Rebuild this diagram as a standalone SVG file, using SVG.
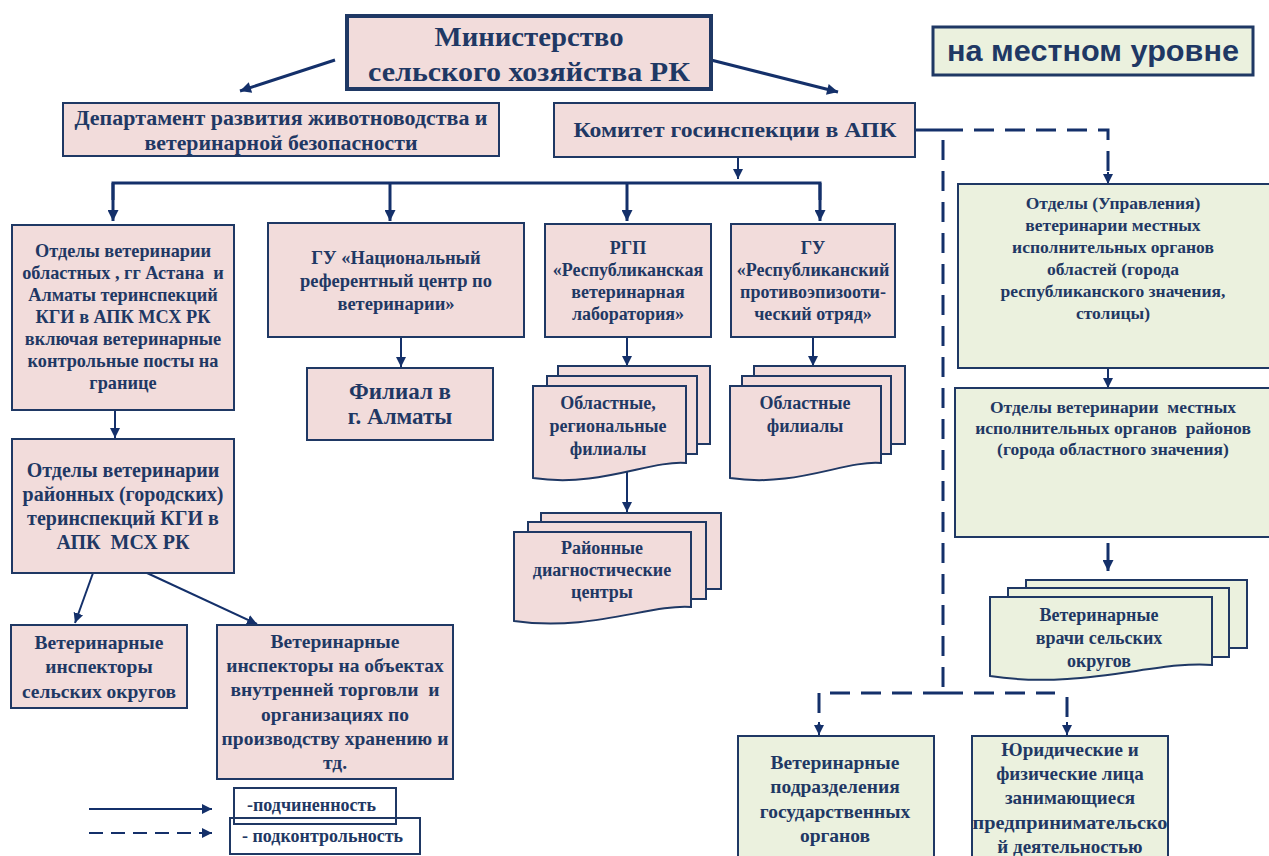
<svg xmlns="http://www.w3.org/2000/svg" width="1269" height="856" viewBox="0 0 1269 856">
<defs>
<style>
.pk{fill:#f2dcdb;stroke:#1f3864;stroke-width:2}
.gr{fill:#ebf1de;stroke:#1f3864;stroke-width:2}
.t{font-family:"Liberation Serif","Times New Roman",serif;font-weight:bold;fill:#1f3864;text-anchor:middle}
.s{fill:none;stroke:#14306a;stroke-width:2}
.sb{fill:none;stroke:#14306a;stroke-width:3}
.d{fill:none;stroke:#14306a;stroke-width:3;stroke-dasharray:20 11}
</style>
<marker id="ah" viewBox="0 0 10 10" refX="10" refY="5" markerWidth="10" markerHeight="10" markerUnits="userSpaceOnUse" orient="auto"><path d="M0,0 L10,5 L0,10 z" fill="#14306a"/></marker>
<marker id="ahb" viewBox="0 0 10 10" refX="10" refY="5" markerWidth="13" markerHeight="11" markerUnits="userSpaceOnUse" orient="auto"><path d="M0,0 L10,5 L0,10 z" fill="#14306a"/></marker>
</defs>
<rect width="1269" height="856" fill="#ffffff"/>

<g id="connectors">
<line class="sb" x1="335" y1="60" x2="240" y2="91" marker-end="url(#ahb)"/>
<line class="sb" x1="711" y1="60" x2="838" y2="92" marker-end="url(#ahb)"/>
<line class="s" x1="738" y1="157" x2="738" y2="179" marker-end="url(#ah)"/>
<path class="sb" d="M113,200 V183 H820 V200"/>
<line class="sb" x1="113" y1="183" x2="113" y2="221" marker-end="url(#ahb)"/>
<line class="sb" x1="390" y1="183" x2="390" y2="221" marker-end="url(#ahb)"/>
<line class="sb" x1="627" y1="183" x2="627" y2="221" marker-end="url(#ahb)"/>
<line class="sb" x1="820" y1="183" x2="820" y2="221" marker-end="url(#ahb)"/>
<line class="s" x1="115" y1="410" x2="115" y2="438" marker-end="url(#ah)"/>
<line class="s" x1="401" y1="337" x2="401" y2="367" marker-end="url(#ah)"/>
<line class="s" x1="627" y1="337" x2="627" y2="366" marker-end="url(#ah)"/>
<line class="s" x1="813" y1="337" x2="813" y2="366" marker-end="url(#ah)"/>
<line class="s" x1="627" y1="472" x2="627" y2="512" marker-end="url(#ah)"/>
<line class="s" x1="93" y1="573" x2="75" y2="623" marker-end="url(#ah)"/>
<line class="s" x1="147" y1="573" x2="257" y2="624" marker-end="url(#ah)"/>
<line class="s" x1="1108" y1="172" x2="1108" y2="184" marker-end="url(#ah)"/>
<line class="s" x1="1108" y1="368" x2="1108" y2="388" marker-end="url(#ah)"/>
<line class="sb" x1="1108" y1="543" x2="1108" y2="571" marker-end="url(#ahb)"/>
<line class="sb" x1="916" y1="130" x2="943" y2="130"/>
<path class="d" d="M943,130 H1108 V172"/>
<path class="d" d="M943,140 V693"/>
<path class="d" d="M943,693 H819 V726"/>
<line class="s" x1="819" y1="722" x2="819" y2="735" marker-end="url(#ah)"/>
<path class="d" d="M943,693 H1055"/>
<path class="d" d="M1067,697 V726"/>
<line class="s" x1="1067" y1="722" x2="1067" y2="735" marker-end="url(#ah)"/>
<line class="s" x1="89" y1="809" x2="212" y2="809" marker-end="url(#ah)"/>
<line class="s" x1="89" y1="833" x2="212" y2="833" stroke-dasharray="14 8" marker-end="url(#ah)"/>
</g>

<g id="n-ministry">
<rect x="347" y="16" width="364" height="73" fill="#f2dcdb" stroke="#1f3864" stroke-width="4"/>
<text class="t" font-size="27"><tspan x="529" y="46" textLength="189" lengthAdjust="spacingAndGlyphs">Министерство</tspan><tspan x="529" y="81" textLength="322" lengthAdjust="spacingAndGlyphs">сельского хозяйства  РК</tspan></text>
</g>

<g id="n-local">
<rect x="933" y="27" width="320" height="48" fill="#ebf1de" stroke="#1f3864" stroke-width="3"/>
<text x="1093" y="61" font-family="'Liberation Sans Narrow','Liberation Sans',Arial,sans-serif" font-weight="bold" font-size="29" fill="#1f3864" text-anchor="middle" textLength="292" lengthAdjust="spacingAndGlyphs">на местном уровне</text>
</g>

<g id="n-dept">
<rect class="pk" x="63" y="103" width="436" height="53"/>
<text class="t" font-size="20"><tspan x="281" y="125" textLength="413" lengthAdjust="spacingAndGlyphs">Департамент развития животноводства и</tspan><tspan x="281" y="150" textLength="273" lengthAdjust="spacingAndGlyphs">ветеринарной безопасности</tspan></text>
</g>

<g id="n-committee">
<rect class="pk" x="554" y="103" width="361" height="54"/>
<text class="t" font-size="20" x="735" y="137" textLength="323" lengthAdjust="spacingAndGlyphs">Комитет госинспекции в АПК</text>
</g>

<g id="n-obl">
<rect class="pk" x="12" y="225" width="222" height="185"/>
<text class="t" font-size="18.3" xml:space="preserve"><tspan x="123" y="257">Отделы ветеринарии</tspan><tspan x="123" y="279">областных , гг Астана  и</tspan><tspan x="123" y="301">Алматы теринспекций</tspan><tspan x="123" y="323">КГИ в АПК МСХ РК</tspan><tspan x="123" y="345">включая ветеринарные</tspan><tspan x="123" y="367">контрольные посты на</tspan><tspan x="123" y="389">границе</tspan></text>
</g>

<g id="n-nrc">
<rect class="pk" x="268" y="223" width="256" height="114"/>
<text class="t" font-size="18.5"><tspan x="396" y="264">ГУ «Национальный</tspan><tspan x="396" y="287">референтный центр по</tspan><tspan x="396" y="310">ветеринарии»</tspan></text>
</g>

<g id="n-filial">
<rect class="pk" x="307" y="368" width="186" height="72"/>
<text class="t" font-size="23"><tspan x="400" y="399">Филиал в</tspan><tspan x="400" y="424">г. Алматы</tspan></text>
</g>

<g id="n-rgp">
<rect class="pk" x="545" y="224" width="166" height="113"/>
<text class="t" font-size="18"><tspan x="628" y="254">РГП</tspan><tspan x="628" y="276">«Республиканская</tspan><tspan x="628" y="298">ветеринарная</tspan><tspan x="628" y="320">лаборатория»</tspan></text>
</g>

<g id="n-gu2">
<rect class="pk" x="731" y="224" width="164" height="113"/>
<text class="t" font-size="18"><tspan x="813" y="254">ГУ</tspan><tspan x="813" y="276">«Республиканский</tspan><tspan x="813" y="298">противоэпизооти-</tspan><tspan x="813" y="320">ческий отряд»</tspan></text>
</g>

<g id="n-regfil">
<rect class="pk" x="558" y="366" width="152" height="78"/>
<rect class="pk" x="547" y="376" width="150" height="78"/>
<path class="pk" d="M533,386 H686 V463 C650,460 600,488 533,478 Z"/>
<text class="t" font-size="18"><tspan x="608" y="409">Областные,</tspan><tspan x="608" y="432">региональные</tspan><tspan x="608" y="455">филиалы</tspan></text>
</g>

<g id="n-oblfil">
<rect class="pk" x="754" y="366" width="151" height="78"/>
<rect class="pk" x="742" y="376" width="149" height="78"/>
<path class="pk" d="M730,386 H881 V463 C845,460 796,488 730,478 Z"/>
<text class="t" font-size="18"><tspan x="805" y="409">Областные</tspan><tspan x="805" y="432">филиалы</tspan></text>
</g>

<g id="n-diag">
<rect class="pk" x="541" y="513" width="180" height="76"/>
<rect class="pk" x="528" y="522" width="178" height="77"/>
<path class="pk" d="M514,532 H691 V607 C650,604 590,632 514,621 Z"/>
<text class="t" font-size="18"><tspan x="602" y="554">Районные</tspan><tspan x="602" y="576">диагностические</tspan><tspan x="602" y="598">центры</tspan></text>
</g>

<g id="n-rai">
<rect class="pk" x="12" y="439" width="222" height="134"/>
<text class="t" font-size="20" xml:space="preserve"><tspan x="123" y="477">Отделы ветеринарии</tspan><tspan x="123" y="501">районных (городских)</tspan><tspan x="123" y="525">теринспекций КГИ в</tspan><tspan x="123" y="549">АПК  МСХ РК</tspan></text>
</g>

<g id="n-insp">
<rect class="pk" x="11" y="625" width="176" height="83"/>
<text class="t" font-size="19.5"><tspan x="99" y="649">Ветеринарные</tspan><tspan x="99" y="673">инспекторы</tspan><tspan x="99" y="698">сельских округов</tspan></text>
</g>

<g id="n-insp2">
<rect class="pk" x="217" y="625" width="236" height="154"/>
<text class="t" font-size="19.5" xml:space="preserve"><tspan x="335" y="648">Ветеринарные</tspan><tspan x="335" y="672">инспекторы на объектах</tspan><tspan x="335" y="696">внутренней торговли  и</tspan><tspan x="335" y="721">организациях по</tspan><tspan x="335" y="745">производству хранению и</tspan><tspan x="335" y="769">тд.</tspan></text>
</g>

<g id="n-mio1">
<rect class="gr" x="958" y="184" width="314" height="184"/>
<text class="t" font-size="17.5"><tspan x="1113" y="209">Отделы (Управления)</tspan><tspan x="1113" y="231">ветеринарии местных</tspan><tspan x="1113" y="253">исполнительных органов</tspan><tspan x="1113" y="275">областей (города</tspan><tspan x="1113" y="297">республиканского значения,</tspan><tspan x="1113" y="319">столицы)</tspan></text>
</g>

<g id="n-mio2">
<rect class="gr" x="955" y="388" width="317" height="149"/>
<text class="t" font-size="17.5" xml:space="preserve"><tspan x="1113" y="413">Отделы ветеринарии  местных</tspan><tspan x="1113" y="434">исполнительных органов  районов</tspan><tspan x="1113" y="455">(города областного значения)</tspan></text>
</g>

<g id="n-vrachi">
<rect class="gr" x="1026" y="580" width="221" height="68"/>
<rect class="gr" x="1008" y="588" width="221" height="69"/>
<path class="gr" d="M990,597 H1212 V665 C1160,660 1080,690 990,676 Z"/>
<text class="t" font-size="18"><tspan x="1099" y="621">Ветеринарные</tspan><tspan x="1099" y="644">врачи сельских</tspan><tspan x="1099" y="667">округов</tspan></text>
</g>

<g id="n-gov">
<rect class="gr" x="738" y="736" width="196" height="130"/>
<text class="t" font-size="19.5"><tspan x="835" y="769">Ветеринарные</tspan><tspan x="835" y="793">подразделения</tspan><tspan x="835" y="818">государственных</tspan><tspan x="835" y="842">органов</tspan></text>
</g>

<g id="n-legal">
<rect class="gr" x="972" y="736" width="196" height="130"/>
<text class="t" font-size="19"><tspan x="1070" y="756">Юридические и</tspan><tspan x="1070" y="780">физические лица</tspan><tspan x="1070" y="804">занимающиеся</tspan><tspan x="1070" y="829" textLength="195" lengthAdjust="spacingAndGlyphs">предпринимательско</tspan><tspan x="1070" y="853">й деятельностью</tspan></text>
</g>

<g id="legend">
<rect x="234" y="788" width="162" height="36" fill="#ffffff" stroke="#1f3864" stroke-width="2"/>
<rect x="230" y="818" width="190" height="36" fill="none" stroke="#1f3864" stroke-width="2"/>
<text class="t" font-size="18" x="247" y="811" style="text-anchor:start">-подчиненность</text>
<text class="t" font-size="18" x="242" y="842" style="text-anchor:start">- подконтрольность</text>
</g>
</svg>
